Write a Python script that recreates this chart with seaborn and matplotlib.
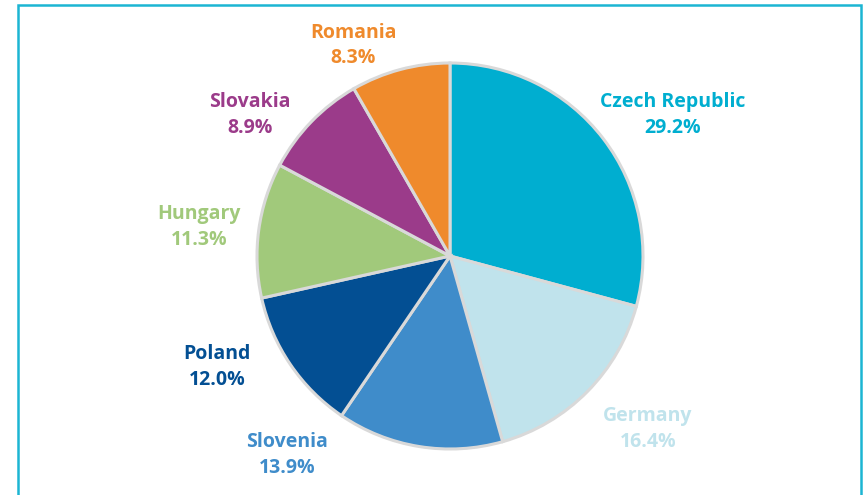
import numpy as np
import pandas as pd
import matplotlib
matplotlib.use("Agg")
import matplotlib.pyplot as plt
import seaborn as sns
from matplotlib.patches import Rectangle

countries = ["Czech Republic", "Germany", "Slovenia", "Poland", "Hungary", "Slovakia", "Romania"]
shares = [29.2, 16.4, 13.9, 12.0, 11.3, 8.9, 8.3]
colors = ["#00aed0", "#c0e3ec", "#3f8cca", "#034f93", "#a1c97b", "#9b3b8a", "#ef8a2c"]

# label centres in pie units (radius = 1)
label_pos = [(1.155, 0.73), (1.026, -0.896), (-0.845, -1.031), (-1.207, -0.575),
             (-1.30, 0.15), (-1.036, 0.73), (-0.50, 1.09)]

sns.set_theme(style="white")
plt.rcParams['font.family'] = ['Open Sans', 'DejaVu Sans']

fig = plt.figure(figsize=(8.64, 4.95), dpi=100)
ax = fig.add_axes([0, 0, 1, 1])

wedges, _ = ax.pie(shares, colors=colors, startangle=90, counterclock=False,
                   wedgeprops=dict(edgecolor="#d9d9d9", linewidth=2.2))

for name, val, col, (x, y) in zip(countries, shares, colors, label_pos):
    ax.text(x, y, f"{name}\n{val:.1f}%", ha="center", va="center", color=col,
            fontsize=14, fontweight="bold", linespacing=1.35)

# pixel-matched limits: centre at (450, 256), radius 193 px
ax.set_aspect("auto")
ax.set_xlim((0 - 450) / 193, (864 - 450) / 193)
ax.set_ylim((256 - 495) / 193, 256 / 193)
ax.axis("off")

# frame around the panel
fig.patches.append(Rectangle((18 / 864, -0.05), (861 - 18) / 864, 1 - 5 / 495 + 0.05,
                             transform=fig.transFigure, fill=False,
                             edgecolor="#1cb5d3", linewidth=1.8))

fig.savefig("out.png", dpi=100)
